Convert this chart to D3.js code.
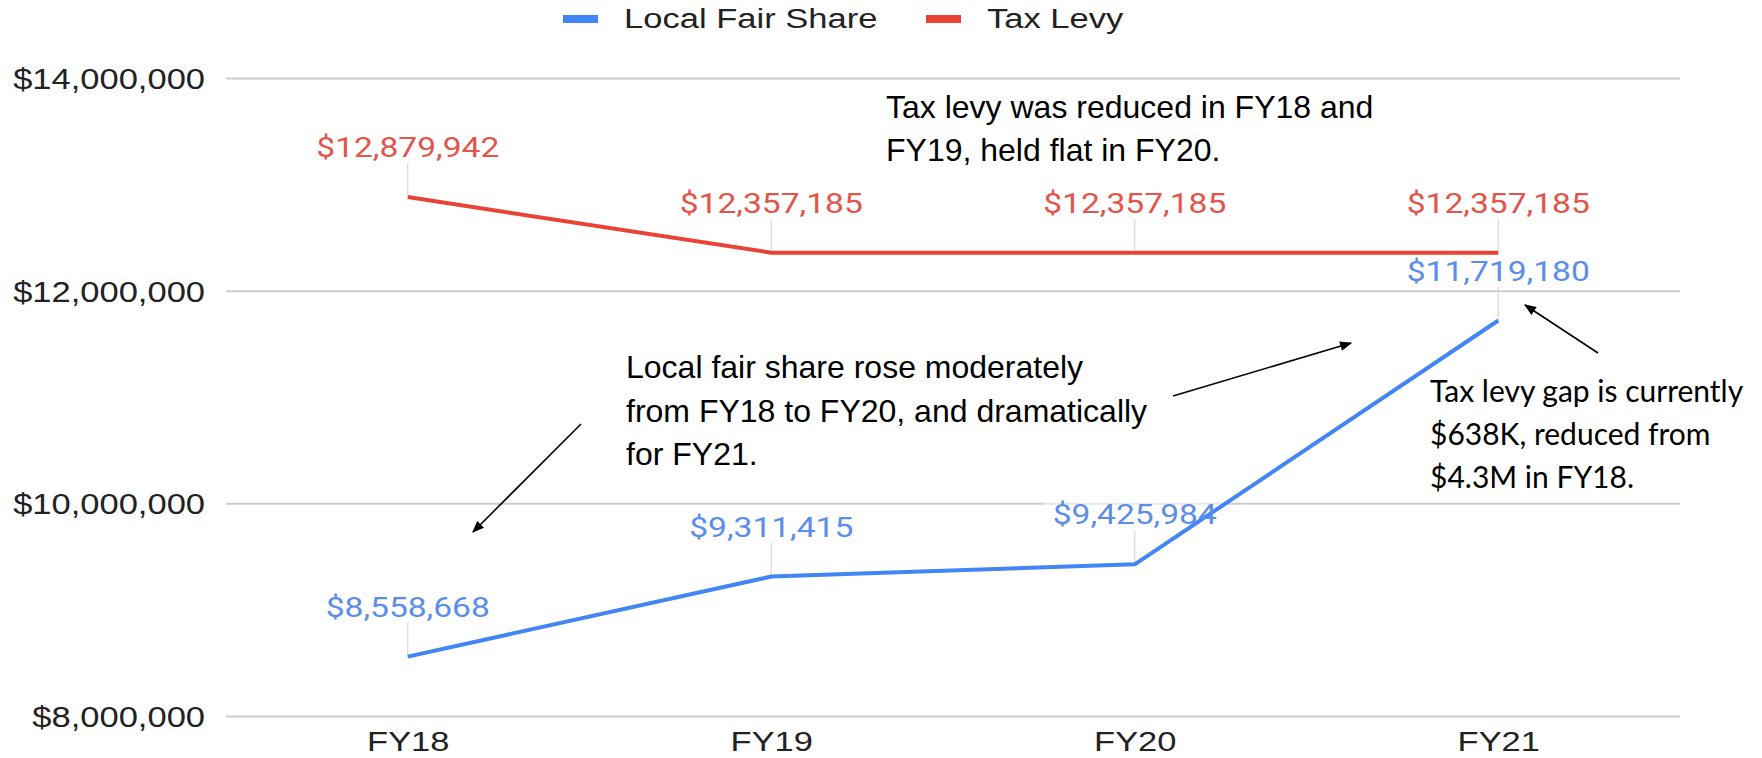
<!DOCTYPE html>
<html>
<head>
<meta charset="utf-8">
<script src="https://cdn.jsdelivr.net/npm/d3@7"></script>
<style>
  html, body { margin: 0; padding: 0; background: #ffffff; }
  svg { display: block; }
</style>
</head>
<body>
<svg id="chart" width="1762" height="758"></svg>
<script>
// ---------------- DATA ----------------
const categories = ["FY18", "FY19", "FY20", "FY21"];
const localFairShare = [8558668, 9311415, 9425984, 11719180];
const taxLevy = [12879942, 12357185, 12357185, 12357185];
const seriesNames = ["Local Fair Share", "Tax Levy"];
const yTicks = [8000000, 10000000, 12000000, 14000000];
const noteTaxLevy = ["Tax levy was reduced in FY18 and", "FY19, held flat in FY20."];
const noteFairShare = ["Local fair share rose moderately", "from FY18 to FY20, and dramatically", "for FY21."];
const noteGap = ["Tax levy gap is currently", "$638K, reduced from", "$4.3M in FY18."];

// ---------------- LAYOUT / STYLE ----------------
const W = 1762, H = 758;
const plot = { left: 226, right: 1680, top: 78, bottom: 716 };
const colors = { blue: "#4285F4", red: "#EA4335", blueText: "#5B8DEB", redText: "#E2554A" };
const gFont = "Arial, 'Liberation Sans', sans-serif";
const labelFont = "Roboto, Arial, sans-serif";

const svg = d3.select("#chart");

const x = d3.scalePoint().domain(categories).range([plot.left, plot.right]).padding(0.5);
const y = d3.scaleLinear().domain([8000000, 14000000]).range([plot.bottom, plot.top]);
const fmt = d3.format("$,");

// helper for horizontally stretched text (matches the exported chart)
function stretchedText(parent, tx, ty, str, opts) {
  const g = parent.append("g").attr("transform", `translate(${tx},${ty}) scale(${opts.sx || 1},1)`);
  return g.append("text")
    .attr("x", 0).attr("y", 0)
    .attr("text-anchor", opts.anchor || "start")
    .attr("font-family", opts.family || gFont)
    .attr("font-size", opts.size || 29)
    .attr("fill", opts.fill || "#222")
    .text(str);
}

// ---------------- GRID + Y AXIS ----------------
const yAxis = d3.axisLeft(y).tickValues(yTicks).tickSize(-(plot.right - plot.left)).tickFormat(fmt);
const yAxisG = svg.append("g").attr("transform", `translate(${plot.left},0)`).call(yAxis);
yAxisG.select(".domain").remove();
yAxisG.selectAll(".tick line").attr("stroke", "#cccccc").attr("stroke-width", 2);
yAxisG.selectAll(".tick text").remove();
yAxisG.selectAll(".tick").each(function(d) {
  const t = d3.select(this);
  stretchedText(t, -21, 10.5, fmt(d), { anchor: "end", size: 29, sx: 1.19, fill: "#222" });
});

// ---------------- X AXIS ----------------
const xAxis = d3.axisBottom(x).tickSize(0);
const xAxisG = svg.append("g").attr("transform", `translate(0,${plot.bottom})`).call(xAxis);
xAxisG.select(".domain").remove();
xAxisG.selectAll(".tick text").remove();
xAxisG.selectAll(".tick").each(function(d) {
  stretchedText(d3.select(this), 0, 35, d, { anchor: "middle", size: 28, sx: 1.23, fill: "#222" });
});

// ---------------- SERIES ----------------
const series = [
  { name: seriesNames[0], values: localFairShare, color: colors.blue, textColor: colors.blueText },
  { name: seriesNames[1], values: taxLevy, color: colors.red, textColor: colors.redText }
];

const labelLayer = svg.append("g");
const leaderLayer = svg.append("g");
const lineLayer = svg.append("g");
const textLayer = svg.append("g");

const line = d3.line().x((d, i) => x(categories[i])).y(d => y(d));

series.forEach(s => {
  s.values.forEach((v, i) => {
    const px = x(categories[i]), py = y(v);
    // soft background box
    labelLayer.append("rect")
      .attr("x", px - 92).attr("y", py - 66)
      .attr("width", 184).attr("height", 34)
      .attr("fill", "#ffffff").attr("opacity", 0.55);
    // leader line
    leaderLayer.append("line")
      .attr("x1", px).attr("x2", px)
      .attr("y1", py - 34).attr("y2", py)
      .attr("stroke", "#d9d9d9").attr("stroke-width", 1.2);
    stretchedText(textLayer, px, py - 40, fmt(v), { anchor: "middle", size: 28, sx: 1.2, family: labelFont, fill: s.textColor });
  });
  lineLayer.append("path")
    .datum(s.values)
    .attr("d", line)
    .attr("fill", "none")
    .attr("stroke", s.color)
    .attr("stroke-width", 4)
    .attr("stroke-linejoin", "round");
});

// ---------------- LEGEND ----------------
const legend = svg.append("g");
const legendItems = [
  { name: seriesNames[0], color: colors.blue, sw: 563, tx: 624 },
  { name: seriesNames[1], color: colors.red, sw: 926, tx: 987 }
];
legendItems.forEach(it => {
  legend.append("rect").attr("x", it.sw).attr("y", 15).attr("width", 35).attr("height", 8).attr("fill", it.color);
  stretchedText(legend, it.tx, 28, it.name, { size: 27, sx: 1.28, fill: "#222" });
});

// ---------------- ANNOTATIONS ----------------
const ann = svg.append("g");
function multiline(lines, x0, y0, dy, family, size) {
  lines.forEach((l, i) => {
    ann.append("text").attr("x", x0).attr("y", y0 + i * dy)
      .attr("font-family", family).attr("font-size", size).attr("fill", "#000").text(l);
  });
}
multiline(noteTaxLevy, 886, 118, 43, "Arial, 'Liberation Sans', sans-serif", 32);
multiline(noteFairShare, 626, 378, 43.5, "Arial, 'Liberation Sans', sans-serif", 32);
multiline(noteGap, 1430, 402, 43, "Lato, 'Open Sans', sans-serif", 30);

svg.append("defs").append("marker")
  .attr("id", "arrow").attr("viewBox", "0 0 10 10")
  .attr("refX", 9).attr("refY", 5)
  .attr("markerWidth", 14).attr("markerHeight", 12)
  .attr("markerUnits", "userSpaceOnUse")
  .attr("orient", "auto")
  .append("path").attr("d", "M0,1 L10,5 L0,9 Z").attr("fill", "#000");

const arrows = [
  [581, 424, 473, 532],
  [1173, 396, 1351, 343],
  [1598, 353, 1525, 305]
];
arrows.forEach(a => {
  ann.append("line")
    .attr("x1", a[0]).attr("y1", a[1]).attr("x2", a[2]).attr("y2", a[3])
    .attr("stroke", "#000").attr("stroke-width", 1.6)
    .attr("marker-end", "url(#arrow)");
});
</script>
</body>
</html>
